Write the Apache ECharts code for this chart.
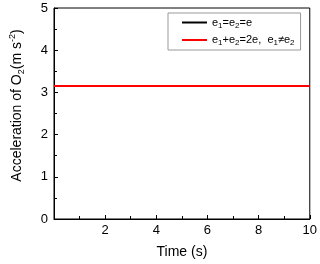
<!DOCTYPE html>
<html>
<head>
<meta charset="utf-8">
<script src="https://cdn.jsdelivr.net/npm/echarts@6/dist/echarts.min.js"></script>
<style>
  html, body { margin: 0; padding: 0; background: #fff; }
  #chart { width: 320px; height: 264px; }
</style>
</head>
<body>
<div id="chart"></div>
<script>
// time points (s) and acceleration values
const times = [0, 2, 4, 6, 8, 10];
const equalE = [3.15, 3.15, 3.15, 3.15, 3.15, 3.15];
const unequalE = [3.15, 3.15, 3.15, 3.15, 3.15, 3.15];
const yTicks = [0, 1, 2, 3, 4, 5];

const font = 'Liberation Sans, Arial, sans-serif';

const chart = echarts.init(document.getElementById('chart'));

const legendLabels = {
  'equal': '{n|e}{s|1}{n|=e}{s|2}{n|=e}',
  'unequal': '{n|e}{s|1}{n|+e}{s|2}{n|=2e,  e}{s|1}{n|≠e}{s|2}'
};

chart.setOption({
  animation: false,
  grid: {
    left: 43, top: 8, right: 9, bottom: 40,
    show: true, borderColor: '#000', borderWidth: 1
  },
  legend: {
    orient: 'vertical',
    left: 168, top: 13,
    padding: [4, 6, 3, 14],
    itemGap: 5,
    itemWidth: 25,
    itemHeight: 2,
    icon: 'rect',
    borderColor: '#999',
    borderWidth: 1,
    formatter: name => legendLabels[name],
    textStyle: {
      fontFamily: font,
      rich: {
        n: { fontFamily: font, fontSize: 11, color: '#000' },
        s: { fontFamily: font, fontSize: 8, color: '#000', verticalAlign: 'bottom', padding: [6, 0, 0, 0] }
      }
    },
    data: ['equal', 'unequal']
  },
  xAxis: {
    type: 'value',
    min: 0, max: 10, interval: 2,
    name: 'Time (s)',
    nameLocation: 'middle',
    nameGap: 26,
    nameTextStyle: { fontFamily: font, fontSize: 14, color: '#000' },
    axisLine: { lineStyle: { color: '#000', width: 1 } },
    axisTick: { inside: true, length: 4, lineStyle: { color: '#000' } },
    minorTick: { show: true, splitNumber: 2, length: 3, lineStyle: { color: '#000' } },
    splitLine: { show: false },
    axisLabel: {
      fontFamily: font, fontSize: 13, color: '#000', margin: 5,
      formatter: v => (v === 0 ? '' : String(v))
    }
  },
  yAxis: {
    type: 'value',
    min: yTicks[0], max: yTicks[yTicks.length - 1], interval: 1,
    name: '{n|Acceleration of O}{s|2}{n|(m s}{p|-2}{n|)}',
    nameLocation: 'middle',
    nameGap: 28,
    nameTextStyle: {
      fontFamily: font, fontSize: 14, color: '#000',
      padding: [0, 0, 0, 16],
      rich: {
        n: { fontFamily: font, fontSize: 14, color: '#000' },
        s: { fontFamily: font, fontSize: 9, color: '#000', verticalAlign: 'bottom', padding: [9, 0, 0, 0] },
        p: { fontFamily: font, fontSize: 9, color: '#000', verticalAlign: 'top', padding: [0, 0, 7, 0] }
      }
    },
    axisLine: { show: true, lineStyle: { color: '#000', width: 1 } },
    axisTick: { show: true, inside: true, length: 4, lineStyle: { color: '#000' } },
    minorTick: { show: true, splitNumber: 2, length: 3, lineStyle: { color: '#000' } },
    splitLine: { show: false },
    axisLabel: { fontFamily: font, fontSize: 13, color: '#000', margin: 6 }
  },
  series: [
    {
      name: 'equal',
      type: 'line',
      symbol: 'none',
      data: times.map((t, i) => [t, equalE[i]]),
      lineStyle: { color: '#000', width: 1 },
      itemStyle: { color: '#000' }
    },
    {
      name: 'unequal',
      type: 'line',
      symbol: 'none',
      data: times.map((t, i) => [t, unequalE[i]]),
      lineStyle: { color: '#ff0000', width: 2 },
      itemStyle: { color: '#ff0000' }
    }
  ]
});
</script>
</body>
</html>
